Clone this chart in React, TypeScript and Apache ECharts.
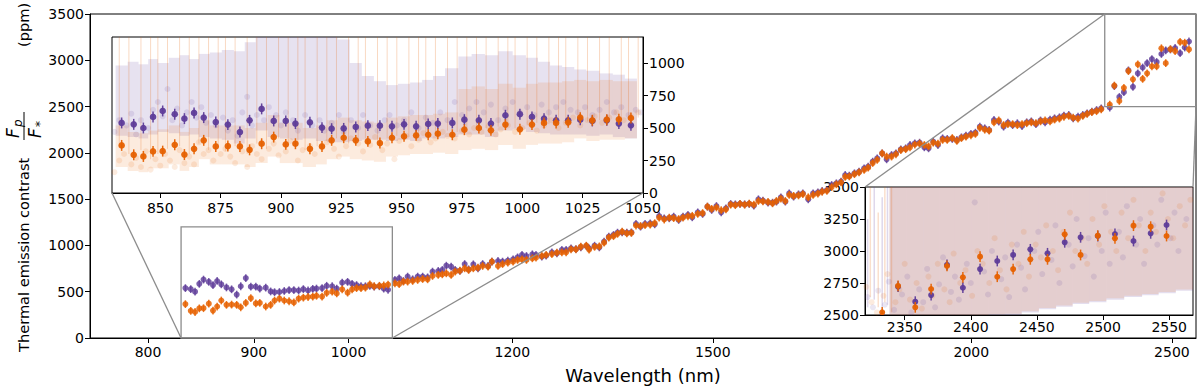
import React, { useEffect, useRef } from "react";
import * as echarts from "echarts";

const FONT = "DejaVu Sans";
const P = (a: number) => `rgba(94,60,153,${a})`;
const O = (a: number) => `rgba(230,97,1,${a})`;

// ---------- tick labels ----------
const mainXTicks = [800, 900, 1000, 1200, 1500, 2000, 2500];
const inset1XTicks = [850, 875, 900, 925, 950, 975, 1000, 1025, 1050];
const inset1YTicks = [0, 250, 500, 750, 1000];
const inset2XTicks = [2350, 2400, 2450, 2500, 2550];

// ---------- binned spectrum (nm, ppm) ----------
const wlA = [834, 839, 843, 847, 851, 856, 860, 864, 868, 873, 878, 883, 887, 892, 897, 902, 906, 912, 917, 921, 926, 931, 936, 941, 946, 951, 956, 961, 965, 971, 976, 982, 987, 993, 999, 1004, 1009, 1014, 1019, 1024, 1029, 1035, 1040, 1045];
const purpleA = [539, 528, 500, 585, 631, 606, 572, 616, 580, 546, 526, 469, 559, 647, 554, 554, 534, 544, 503, 495, 497, 508, 518, 518, 513, 528, 513, 531, 534, 539, 564, 559, 534, 598, 606, 585, 572, 559, 559, 564, 554, 559, 534, 521];
const orangeA = [366, 294, 281, 320, 322, 371, 296, 340, 405, 358, 361, 358, 332, 379, 430, 374, 379, 340, 358, 405, 425, 405, 397, 384, 425, 436, 443, 448, 456, 448, 487, 500, 482, 526, 490, 526, 539, 539, 544, 580, 559, 564, 567, 577];

const wlB = [1053, 1058, 1063, 1068, 1074, 1080, 1086, 1092, 1098, 1105, 1110, 1115, 1121, 1126, 1132, 1138, 1143, 1149, 1155, 1161, 1168, 1173, 1181, 1187, 1194, 1201, 1207, 1213, 1219, 1227, 1232, 1240, 1246, 1254, 1261, 1268, 1274, 1281, 1288, 1295, 1303];
const purpleB = [627, 645, 616, 663, 634, 663, 663, 655, 717, 724, 735, 781, 771, 735, 724, 799, 742, 796, 753, 799, 778, 825, 832, 825, 835, 850, 871, 897, 886, 904, 897, 879, 889, 925, 915, 951, 951, 969, 961, 979, 994];
const orangeB = [591, 583, 609, 609, 616, 627, 637, 634, 670, 681, 688, 699, 681, 717, 727, 753, 735, 753, 760, 778, 771, 825, 778, 799, 814, 825, 843, 850, 843, 861, 868, 886, 897, 907, 922, 925, 925, 958, 958, 987, 997];

const wlC = [1307, 1315, 1322, 1329, 1336, 1343, 1349, 1356, 1363, 1370, 1377, 1384, 1391, 1399, 1406, 1413, 1421, 1429, 1436, 1444, 1451, 1459, 1466, 1475, 1483, 1491, 1498, 1506, 1514, 1522, 1530, 1538, 1546, 1554, 1562, 1570, 1578, 1586, 1595, 1603, 1610, 1618, 1626, 1633, 1641, 1650, 1658, 1668, 1677, 1686, 1694, 1703, 1712, 1721, 1730, 1738, 1746, 1756, 1765, 1775, 1783, 1792, 1801, 1811, 1820, 1830, 1839, 1849, 1859, 1868, 1878, 1888, 1898, 1907, 1917, 1927, 1937, 1947, 1958, 1968, 1978, 1988, 1999, 2009, 2019, 2030, 2040, 2051, 2062, 2073, 2083];
const purpleC = [969, 997, 979, 1041, 1095, 1113, 1138, 1141, 1138, 1141, 1232, 1203, 1232, 1239, 1228, 1318, 1293, 1293, 1311, 1275, 1311, 1329, 1304, 1358, 1340, 1419, 1383, 1426, 1358, 1401, 1448, 1444, 1448, 1444, 1448, 1430, 1498, 1484, 1462, 1462, 1473, 1520, 1473, 1563, 1527, 1552, 1563, 1498, 1563, 1574, 1588, 1599, 1653, 1671, 1689, 1761, 1754, 1779, 1797, 1833, 1851, 1905, 1941, 1995, 1930, 1977, 1995, 2038, 2049, 2085, 2103, 2110, 2060, 2049, 2121, 2085, 2157, 2150, 2150, 2139, 2168, 2186, 2204, 2218, 2283, 2265, 2247, 2355, 2337, 2283, 2326];
const orangeC = [955, 985, 990, 1030, 1085, 1100, 1125, 1150, 1130, 1135, 1215, 1210, 1220, 1225, 1240, 1300, 1280, 1300, 1295, 1285, 1300, 1315, 1320, 1340, 1350, 1419, 1395, 1410, 1380, 1390, 1440, 1435, 1450, 1440, 1452, 1440, 1480, 1475, 1470, 1455, 1480, 1505, 1480, 1545, 1535, 1540, 1555, 1520, 1545, 1560, 1580, 1590, 1630, 1660, 1680, 1740, 1745, 1770, 1790, 1815, 1840, 1890, 1925, 1995, 1960, 1960, 1985, 2030, 2040, 2060, 2090, 2100, 2085, 2070, 2110, 2100, 2140, 2140, 2160, 2130, 2160, 2175, 2190, 2205, 2270, 2250, 2240, 2330, 2350, 2300, 2310];

const wlD = [2094, 2105, 2116, 2127, 2138, 2149, 2160, 2171, 2183, 2194, 2206, 2217, 2229, 2240, 2252, 2264, 2275, 2287, 2299, 2311];
const purpleD = [2300, 2320, 2290, 2330, 2340, 2310, 2350, 2330, 2360, 2373, 2384, 2402, 2409, 2373, 2391, 2409, 2427, 2445, 2463, 2481];
const orangeD = [2310, 2300, 2310, 2320, 2330, 2320, 2340, 2350, 2340, 2360, 2370, 2390, 2400, 2380, 2370, 2400, 2420, 2440, 2450, 2470];

const wlE = [2333, 2345, 2358, 2370, 2382, 2394, 2407, 2420, 2432, 2445, 2458, 2471, 2483, 2496, 2509, 2523, 2536, 2548];
const purpleE = [2490, 2721, 2604, 2656, 2891, 2713, 2859, 2922, 2969, 3013, 2982, 3068, 3107, 3117, 3133, 3078, 3138, 3203];
const orangeE = [2521, 2727, 2560, 2703, 2883, 2794, 2956, 2799, 2859, 2935, 2935, 3130, 2969, 3120, 3099, 3198, 3190, 3117];

const binErr = 42;

// ---------- inset 1: unbinned error-bar envelopes and points ----------
const purpleLo1 = [440, 430, 420, 450, 470, 460, 440, 450, 430, 420, 410, 380, 420, 480, 430, 420, 410, 420, 400, 390, 390, 400, 410, 410, 400, 410, 400, 420, 420, 430, 450, 450, 430, 480, 490, 470, 460, 450, 450, 450, 440, 450, 430, 420];
const purpleHi1 = [980, 1010, 990, 1030, 1000, 1040, 1060, 1030, 1070, 1080, 1100, 1090, 1160, 1250, 1250, 1250, 1250, 1250, 1250, 1250, 1180, 1000, 900, 860, 830, 840, 850, 870, 900, 960, 1050, 1070, 1060, 1090, 1060, 1040, 1010, 980, 970, 950, 940, 920, 910, 880];
const orangeLo1 = [200, 170, 160, 190, 190, 220, 170, 200, 260, 220, 220, 220, 200, 230, 280, 230, 230, 200, 220, 260, 280, 260, 250, 240, 280, 290, 300, 300, 310, 300, 330, 340, 330, 370, 340, 370, 380, 380, 390, 420, 400, 410, 410, 420];
const orangeHi1 = [520, 470, 460, 480, 490, 520, 470, 500, 560, 520, 520, 520, 500, 540, 600, 540, 540, 500, 520, 560, 580, 560, 550, 540, 580, 590, 600, 600, 610, 620, 800, 820, 800, 840, 810, 840, 850, 850, 860, 870, 860, 870, 860, 860];
const orangeSpikes1 = [[833, 380, 1400], [837, 300, 1400], [842, 330, 1400], [846, 260, 1400], [849, 300, 1400], [853, 340, 1400], [858, 360, 1400], [862, 300, 1400], [866, 380, 1400], [870, 330, 1400], [874, 350, 1400], [877, 320, 1400], [881, 360, 1400], [886, 300, 1400], [890, 380, 1400], [894, 340, 1400], [899, 420, 1400], [903, 360, 1400], [907, 380, 1400], [910, 330, 1400], [915, 360, 1400], [919, 400, 1400], [923, 420, 1400], [928, 380, 1400], [932, 400, 1400], [935, 420, 1400], [940, 380, 1400], [944, 420, 1400], [948, 440, 1400], [953, 430, 1400], [957, 440, 1400], [960, 460, 1400], [964, 450, 1400], [969, 480, 1400], [973, 470, 1400], [977, 500, 1400], [981, 490, 1400], [985, 500, 1400], [990, 510, 1400], [994, 520, 1400], [997, 500, 1400], [1002, 520, 1400], [1006, 540, 1400], [1011, 530, 1400], [1015, 540, 1400], [1018, 550, 1400], [1023, 560, 1400], [1027, 550, 1400], [1032, 560, 1400], [1036, 570, 1400], [1041, 560, 1400], [1044, 570, 1400], [1048, 580, 1400]];
const purpleFaint1 = [[831, 470], [833, 560], [836, 520], [838, 610], [840, 450], [842, 560], [845, 500], [847, 640], [849, 700], [851, 590], [853, 800], [855, 560], [857, 650], [859, 520], [861, 620], [863, 700], [865, 580], [867, 660], [869, 540], [871, 600], [873, 520], [876, 580], [878, 480], [880, 560], [882, 440], [884, 620], [886, 740], [888, 520], [890, 600], [893, 560], [895, 660], [898, 600], [900, 520], [902, 620], [905, 560], [907, 480], [910, 600], [913, 520], [916, 560], [918, 480], [921, 540], [924, 600], [926, 470], [929, 560], [932, 500], [934, 600], [937, 520], [940, 480], [943, 560], [945, 600], [948, 520], [951, 560], [954, 620], [957, 500], [960, 580], [963, 540], [966, 620], [969, 560], [972, 700], [975, 600], [978, 650], [981, 700], [984, 620], [987, 680], [990, 560], [993, 650], [996, 700], [999, 620], [1002, 660], [1005, 600], [1008, 680], [1011, 620], [1014, 660], [1017, 700], [1020, 640], [1023, 620], [1026, 660], [1029, 600], [1032, 640], [1035, 700], [1038, 620], [1041, 660], [1044, 600], [1047, 640], [1049, 620]];
const orangeFaint1 = [[831, 160], [833, 250], [835, 300], [838, 220], [840, 270], [842, 200], [844, 320], [846, 180], [848, 260], [850, 210], [852, 300], [854, 250], [856, 200], [858, 330], [860, 230], [862, 280], [864, 220], [866, 390], [868, 300], [870, 330], [872, 250], [875, 300], [877, 340], [879, 280], [881, 230], [884, 320], [886, 200], [888, 360], [890, 300], [892, 260], [895, 340], [897, 380], [899, 290], [902, 320], [904, 400], [907, 250], [909, 330], [912, 360], [914, 300], [917, 350], [919, 390], [922, 340], [924, 280], [927, 360], [929, 420], [932, 380], [934, 320], [937, 370], [939, 430], [942, 330], [944, 380], [947, 260], [949, 400], [952, 440], [954, 360], [957, 410], [959, 460], [962, 390], [964, 420], [967, 470], [969, 440], [972, 420], [975, 480], [978, 450], [980, 500], [983, 470], [986, 510], [989, 450], [991, 490], [994, 520], [997, 470], [1000, 500], [1003, 540], [1006, 480], [1009, 520], [1012, 560], [1015, 500], [1018, 540], [1021, 580], [1024, 520], [1027, 560], [1030, 590], [1033, 540], [1036, 580], [1039, 620], [1042, 560], [1045, 590], [1048, 620]];

// ---------- inset 2: unbinned envelopes and points ----------
const wlBand2 = [2345, 2358, 2370, 2382, 2394, 2407, 2420, 2432, 2445, 2458, 2471, 2483, 2496, 2509, 2523, 2536, 2548, 2562];
const purpleLo2 = [2440, 2450, 2460, 2470, 2480, 2490, 2495, 2500, 2520, 2545, 2565, 2585, 2600, 2620, 2640, 2655, 2670, 2690];
const orangeLo2 = [2450, 2460, 2470, 2480, 2490, 2500, 2505, 2510, 2530, 2555, 2575, 2595, 2610, 2630, 2650, 2665, 2680, 2700];
const hi2 = [3600, 3600, 3600, 3600, 3600, 3600, 3600, 3600, 3600, 3600, 3600, 3600, 3600, 3600, 3600, 3600, 3600, 3600];
const purpleSpikes2 = [[2322, 2560, 3250], [2327, 2620, 3600], [2333, 2500, 3420], [2337, 2580, 3600]];
const orangeSpikes2 = [[2324, 2640, 3500], [2330, 2560, 3300], [2335, 2600, 3600], [2340, 2520, 3600]];
const purpleFaint2 = [[2322, 2640], [2326, 2560], [2330, 2690], [2335, 2580], [2338, 2760], [2342, 2540], [2348, 2660], [2352, 2800], [2355, 2520], [2361, 2700], [2364, 2600], [2367, 2860], [2373, 2560], [2376, 2740], [2379, 2950], [2385, 2680], [2388, 2800], [2391, 2620], [2397, 2900], [2400, 2750], [2403, 3380], [2410, 2840], [2413, 2660], [2416, 3000], [2423, 2780], [2426, 2950], [2429, 2640], [2435, 3050], [2438, 2870], [2441, 2700], [2448, 3000], [2451, 3150], [2454, 2820], [2461, 2930], [2464, 3200], [2467, 2750], [2474, 3050], [2477, 2880], [2480, 3250], [2486, 2960], [2489, 3100], [2493, 2800], [2499, 3000], [2502, 3300], [2505, 2900], [2512, 3150], [2515, 2950], [2518, 3350], [2525, 3050], [2528, 3250], [2531, 2900], [2538, 3200], [2541, 3050], [2544, 3400], [2551, 3100], [2554, 3300], [2557, 3000], [2563, 3250]];
const orangeFaint2 = [[2321, 2720], [2325, 2600], [2329, 2520], [2334, 2650], [2337, 2820], [2343, 2600], [2346, 2700], [2350, 2900], [2354, 2620], [2359, 2750], [2363, 2550], [2368, 2800], [2371, 2650], [2375, 2900], [2380, 2700], [2384, 2600], [2387, 2980], [2392, 2750], [2396, 2850], [2401, 2650], [2405, 3000], [2409, 2900], [2414, 2750], [2418, 3100], [2422, 2850], [2427, 2700], [2431, 3050], [2436, 2900], [2440, 3150], [2444, 2800], [2449, 3050], [2453, 2950], [2457, 3200], [2462, 3000], [2466, 2850], [2470, 3150], [2475, 3300], [2479, 3000], [2484, 3100], [2488, 2900], [2492, 3250], [2497, 3050], [2501, 3350], [2506, 3150], [2510, 3000], [2514, 3300], [2519, 3100], [2523, 3400], [2527, 3200], [2532, 3000], [2536, 3300], [2540, 3150], [2545, 3450], [2549, 3250], [2553, 3100], [2558, 3350], [2562, 3200], [2566, 3400]];

// ---------- helpers ----------
const wlAll = [...wlA, ...wlB, ...wlC, ...wlD, ...wlE];
const purpleAll = [...purpleA, ...purpleB, ...purpleC, ...purpleD, ...purpleE];
const orangeAll = [...orangeA, ...orangeB, ...orangeC, ...orangeD, ...orangeE];

function errSeries(name: string, wl: number[], val: number[], color: string, r: number, xi: number, yi: number, lw: number) {
  return {
    type: "custom", name, xAxisIndex: xi, yAxisIndex: yi, clip: true, z: 5,
    data: wl.map((w, i) => [w, val[i], binErr]),
    renderItem: (params: any, api: any) => {
      const x = api.value(0), y = api.value(1), e = api.value(2);
      const c = api.coord([x, y]);
      const t = api.coord([x, y + e]);
      const b = api.coord([x, y - e]);
      return {
        type: "group",
        children: [
          { type: "line", shape: { x1: c[0], y1: t[1], x2: c[0], y2: b[1] }, style: { stroke: color, lineWidth: lw } },
          { type: "circle", shape: { cx: c[0], cy: c[1], r }, style: { fill: color } },
        ],
      };
    },
  };
}

function bandSeries(name: string, wl: number[], lo: number[], hi: number[], color: string, xi: number, yi: number) {
  return {
    type: "custom", name, xAxisIndex: xi, yAxisIndex: yi, clip: true, silent: true, z: 1,
    data: wl.map((w, i) => [w, lo[i], hi[i]]),
    renderItem: (params: any, api: any) => {
      const i = params.dataIndex;
      const w = wl[i];
      const left = i > 0 ? (wl[i - 1] + w) / 2 : w - (wl[1] - wl[0]) / 2;
      const right = i < wl.length - 1 ? (wl[i + 1] + w) / 2 : w + (w - wl[i - 1]) / 2;
      const a = api.coord([left, api.value(2)]);
      const b = api.coord([right, api.value(1)]);
      return { type: "rect", shape: { x: a[0], y: a[1], width: b[0] - a[0], height: b[1] - a[1] }, style: { fill: color } };
    },
  };
}

function spikeSeries(name: string, triples: number[][], color: string, xi: number, yi: number, lw: number) {
  return {
    type: "custom", name, xAxisIndex: xi, yAxisIndex: yi, clip: true, silent: true, z: 2,
    data: triples,
    renderItem: (params: any, api: any) => {
      const a = api.coord([api.value(0), api.value(1)]);
      const b = api.coord([api.value(0), api.value(2)]);
      return { type: "line", shape: { x1: a[0], y1: a[1], x2: b[0], y2: b[1] }, style: { stroke: color, lineWidth: lw } };
    },
  };
}

function faintSeries(name: string, pts: number[][], color: string, xi: number, yi: number) {
  return {
    type: "scatter", name, xAxisIndex: xi, yAxisIndex: yi, data: pts, symbolSize: 6, z: 3, silent: true,
    itemStyle: { color }, clip: true,
  };
}

const fmt = (v: number) => String(Math.round(v));
const lab = { fontSize: 14, color: "#000", fontFamily: FONT, formatter: fmt };
const tick = { show: true, length: 5, lineStyle: { color: "#000", width: 1 } };
const line = { show: true, lineStyle: { color: "#000", width: 1 } };

export default function App() {
  const ref = useRef<HTMLDivElement>(null);
  useEffect(() => {
    if (!ref.current) return;
    const chart = echarts.init(ref.current, undefined, { renderer: "svg" });
    chart.setOption({
      animation: false,
      backgroundColor: "#fff",
      grid: [
        { left: 90, top: 14, width: 1106, height: 324, show: true, borderColor: "#000", borderWidth: 1, backgroundColor: "transparent" },
        { left: 112, top: 37, width: 531, height: 156, show: true, borderColor: "#000", borderWidth: 1, backgroundColor: "#fff" },
        { left: 865, top: 187, width: 328, height: 128, show: true, borderColor: "#000", borderWidth: 1, backgroundColor: "#fff" },
      ],
      xAxis: [
        {
          gridIndex: 0, type: "log", logBase: 10, min: 750, max: 2568,
          axisLine: line, axisTick: { ...tick, customValues: mainXTicks }, minorTick: { show: false },
          axisLabel: { ...lab, margin: 7, customValues: mainXTicks }, splitLine: { show: false },
          name: "Wavelength (nm)", nameLocation: "middle", nameGap: 28,
          nameTextStyle: { fontSize: 18, color: "#000", fontFamily: FONT },
        },
        {
          gridIndex: 1, type: "value", min: 830, max: 1050,
          axisLine: line, axisTick: { ...tick, customValues: inset1XTicks },
          axisLabel: { ...lab, margin: 8, customValues: inset1XTicks }, splitLine: { show: false },
        },
        {
          gridIndex: 2, type: "value", min: 2320, max: 2568,
          axisLine: line, axisTick: { ...tick, customValues: inset2XTicks },
          axisLabel: { ...lab, margin: 5, customValues: inset2XTicks }, splitLine: { show: false },
        },
      ],
      yAxis: [
        {
          gridIndex: 0, type: "value", min: 0, max: 3500, interval: 500,
          axisLine: line, axisTick: tick, axisLabel: { ...lab, margin: 6 }, splitLine: { show: false },
        },
        {
          gridIndex: 1, type: "value", min: 0, max: 1200, position: "right",
          axisLine: line, axisTick: { ...tick, customValues: inset1YTicks },
          axisLabel: { ...lab, margin: 6, customValues: inset1YTicks }, splitLine: { show: false },
        },
        {
          gridIndex: 2, type: "value", min: 2500, max: 3500, interval: 250,
          axisLine: line, axisTick: tick, axisLabel: { ...lab, margin: 6 }, splitLine: { show: false },
        },
      ],
      series: [
        // main
        errSeries("purple", wlAll, purpleAll, P(0.82), 3, 0, 0, 1.5),
        errSeries("orange", wlAll, orangeAll, O(0.85), 3, 0, 0, 1.5),
        // inset 1
        bandSeries("pband1", wlA, purpleLo1, purpleHi1, P(0.15), 1, 1),
        bandSeries("oband1", wlA, orangeLo1, orangeHi1, O(0.13), 1, 1),
        spikeSeries("ospike1", orangeSpikes1, O(0.24), 1, 1, 1),
        faintSeries("pfaint1", purpleFaint1, P(0.16), 1, 1),
        faintSeries("ofaint1", orangeFaint1, O(0.16), 1, 1),
        errSeries("purple1", wlA, purpleA, P(0.95), 3.3, 1, 1, 1.5),
        errSeries("orange1", wlA, orangeA, O(0.95), 3.3, 1, 1, 1.5),
        // inset 2
        bandSeries("pband2", wlBand2, purpleLo2, hi2, P(0.17), 2, 2),
        bandSeries("oband2", wlBand2, orangeLo2, hi2, O(0.13), 2, 2),
        spikeSeries("pspike2", purpleSpikes2, P(0.2), 2, 2, 1.5),
        spikeSeries("ospike2", orangeSpikes2, O(0.2), 2, 2, 1.5),
        faintSeries("pfaint2", purpleFaint2, P(0.16), 2, 2),
        faintSeries("ofaint2", orangeFaint2, O(0.16), 2, 2),
        errSeries("purple2", wlE, purpleE, P(0.95), 3, 2, 2, 1.5),
        errSeries("orange2", wlE, orangeE, O(0.95), 3, 2, 2, 1.5),
      ],
    });

    const px = (gi: number, pt: number[]) => chart.convertToPixel({ xAxisIndex: gi, yAxisIndex: gi }, pt) as number[];
    const gray = { stroke: "#8c8c8c", lineWidth: 1.3, fill: "none" };
    const b1a = px(0, [830, 1200]), b1b = px(0, [1050, 0]);
    const b2a = px(0, [2320, 3500]), b2b = px(0, [2568, 2500]);
    const i1l = px(1, [830, 0]), i1r = px(1, [1050, 0]);
    const i2l = px(2, [2320, 3500]), i2r = px(2, [2568, 3500]);
    const seg = (a: number[], b: number[]) => ({ type: "line", z: 20, shape: { x1: a[0], y1: a[1], x2: b[0], y2: b[1] }, style: gray });
    const it = { fontStyle: "italic", fontFamily: FONT, fill: "#000", align: "left", verticalAlign: "middle" };
    chart.setOption({
      graphic: [
        { type: "rect", z: 20, shape: { x: b1a[0], y: b1a[1], width: b1b[0] - b1a[0], height: b1b[1] - b1a[1] }, style: gray },
        { type: "rect", z: 20, shape: { x: b2a[0], y: b2a[1], width: b2b[0] - b2a[0], height: b2b[1] - b2a[1] }, style: gray },
        seg([b1a[0], b1b[1]], i1l),
        seg([b1b[0], b1b[1]], i1r),
        seg([b2a[0], b2a[1]], i2l),
        seg([b2b[0], b2b[1]], i2r),
        {
          type: "group", x: 23, y: 352, rotation: Math.PI / 2,
          children: [
            { type: "text", x: 0, y: 0, style: { text: "Thermal emission contrast", fontSize: 14.6, fontFamily: FONT, fill: "#000", align: "left", verticalAlign: "middle" } },
            { type: "text", x: 214, y: -10, style: { ...it, text: "F", fontSize: 17 } },
            { type: "text", x: 225, y: -5, style: { ...it, text: "p", fontSize: 12 } },
            { type: "line", shape: { x1: 212, y1: 1, x2: 240, y2: 1 }, style: { stroke: "#000", lineWidth: 1 } },
            { type: "text", x: 214, y: 12, style: { ...it, text: "F", fontSize: 17 } },
            { type: "text", x: 225, y: 17, style: { ...it, fontStyle: "normal", text: "*", fontSize: 12 } },
            { type: "text", x: 305, y: 0, style: { text: "(ppm)", fontSize: 14.6, fontFamily: FONT, fill: "#000", align: "left", verticalAlign: "middle" } },
          ],
        },
      ],
    });
    return () => chart.dispose();
  }, []);
  return <div ref={ref} style={{ position: "fixed", left: 0, top: 0, width: 1200, height: 389 }} />;
}
